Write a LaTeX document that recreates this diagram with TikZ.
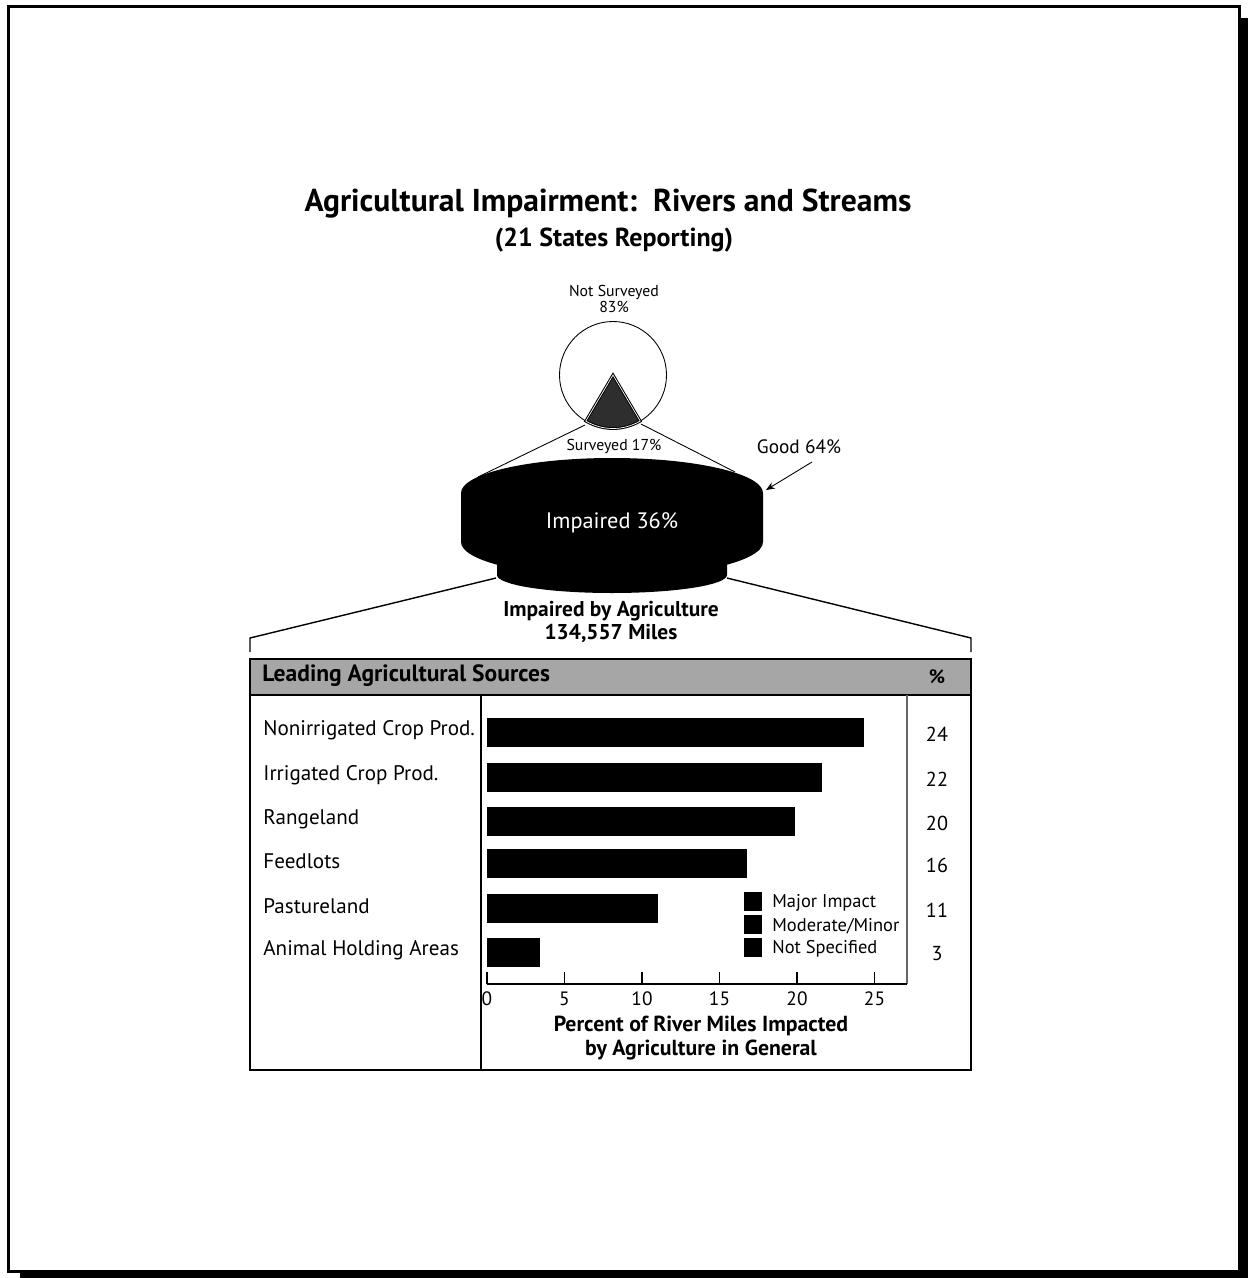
\documentclass[tikz,border=0pt]{standalone}
\usepackage{fontspec}
\setmainfont{PT Sans}
\usetikzlibrary{arrows.meta}

\begin{document}
\begin{tikzpicture}[x=0.02cm,y=-0.02cm,line width=.6pt]
\useasboundingbox (0,0) rectangle (1248,1278);
% page frame with its shadow
\fill (20,18) rectangle (1248,1278);
\filldraw[fill=white,line width=1.7pt] (8.5,6.5) rectangle (1239.5,1271.5);

\node (title) at (608,204) {\fontsize{18}{20}\selectfont\bfseries Agricultural Impairment:\ \ Rivers and Streams};
\node (subtitle) at (614,240) {\fontsize{14.8}{16}\selectfont\bfseries (21 States Reporting)};

% small pie
\coordinate (pc) at (613,375);
\draw[line width=.5pt] (pc) circle (53.5);
\filldraw[fill=black!82,draw=black,line width=1.6pt] (pc) -- ++(59.4:53.5) arc[start angle=59.4,end angle=120.6,radius=53.5] -- cycle;
\draw[white,line width=.4pt] (pc) -- ++(59.4:53.5) arc[start angle=59.4,end angle=120.6,radius=53.5] -- cycle;
\node[align=center,font=\fontsize{9}{9.5}\selectfont] (notsurv) at (614,299) {Not Surveyed\\83\%};
\node[font=\fontsize{9}{10}\selectfont] (surv) at (614,446) {Surveyed 17\%};
\coordinate (wl) at (585,425);\coordinate (wr) at (641,424);
\coordinate (cl) at (478,477);\coordinate (cr) at (735,472);
\draw[line width=.5pt] (wl)--(cl);
\draw[line width=.5pt] (wr)--(cr);

% impaired disk
\fill (497,555)--(497,575) arc[start angle=180,end angle=0,x radius=115,y radius=18]--(727,555)--cycle;
\fill (461,493)--(461,542) arc[start angle=180,end angle=0,x radius=151,y radius=35]
  --(763,493) arc[start angle=0,end angle=-180,x radius=151,y radius=35]--cycle;
\node[white,font=\fontsize{12.7}{14}\selectfont] (impaired) at (612,523) {Impaired 36\%};
\node[font=\fontsize{11}{13}\selectfont] (good) at (799,447) {Good 64\%};
\coordinate (gtip) at (766,490);
\draw[line width=.5pt,-{Stealth[length=5pt,width=4pt]}] (812,462)--(gtip);

% bracket to the table
\coordinate (ll) at (496,578);\coordinate (lr) at (727,578);
\draw[line width=.8pt] (ll)--(250,638)--(250,652);
\draw[line width=.8pt] (lr)--(971,638)--(971,652);
\node[align=center,font=\fontsize{12.2}{13.5}\selectfont\bfseries] (byagri) at (611,622) {Impaired by Agriculture\\134,557 Miles};

% table
\filldraw[fill=black!35,line width=1.4pt] (250,659) rectangle (971,695);
\node[anchor=west,font=\fontsize{13.4}{15}\selectfont\bfseries] (header) at (256,676) {Leading Agricultural Sources};
\node[font=\fontsize{11}{13}\selectfont\bfseries] (pcthead) at (937,677) {\%};
\draw[line width=.9pt] (250,695)--(250,1070)--(971,1070)--(971,695);
\draw[line width=.9pt] (481,695)--(481,1070);
\draw[black!60,line width=.6pt] (907,695)--(907,984);
\draw[line width=.6pt] (487,984)--(907,984);
\foreach \t in {0,5,...,25}{
  \draw[line width=.6pt] (487+15.5*\t,984)--++(0,-12);
  \node[font=\fontsize{11}{13}\selectfont] (tick\t) at (487+15.5*\t,999) {\t};
}
\foreach \v/\y/\src/\pct [count=\i] in {24.3/732/Nonirrigated Crop Prod./24,21.6/777/Irrigated Crop Prod./22,19.9/821/Rangeland/20,16.8/863/Feedlots/16,11.0/908/Pastureland/11,3.4/952/Animal Holding Areas/3}{
  \fill (487,\y-14.5) rectangle (487+15.5*\v,\y+14.5);
  \node[anchor=west,font=\fontsize{12}{13}\selectfont] (src\i) at (257,\y-2) {\src};
  \node[font=\fontsize{11.5}{13}\selectfont] (pct\i) at (937,\y+2) {\pct};
}
% legend
\foreach \y/\lab [count=\i] in {901/{Major Impact},924/{Moderate/Minor},947/{Not Specified}}{
  \fill (744,\y-9.5) rectangle (762,\y+9.5);
  \node[anchor=west,font=\fontsize{10.5}{12}\selectfont] (leg\i) at (766,\y+2) {\lab};
}
\node[align=center,font=\fontsize{12.4}{14}\selectfont\bfseries] (xlabel) at (701,1038) {Percent of River Miles Impacted\\by Agriculture in General};
\end{tikzpicture}
\end{document}
